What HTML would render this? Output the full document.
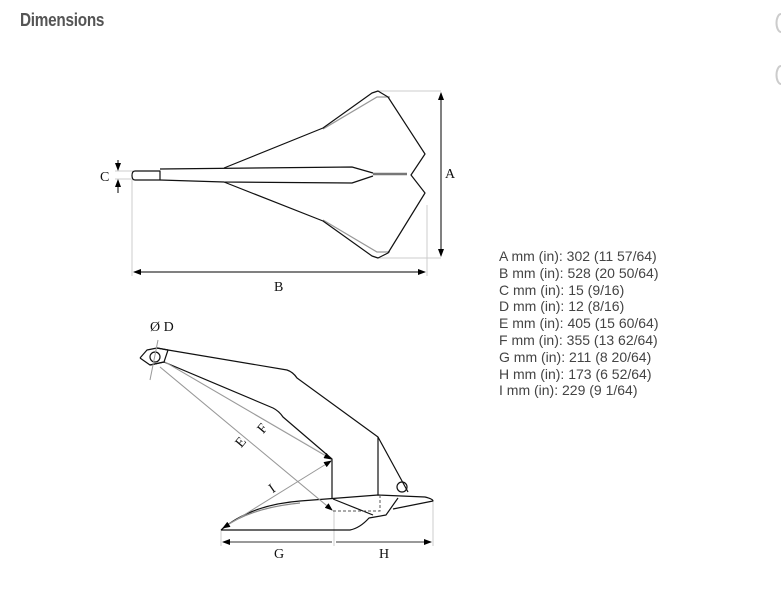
<!DOCTYPE html>
<html><head><style>
body{margin:0;background:#fff;width:781px;height:597px;overflow:hidden;position:relative;font-family:"Liberation Sans",sans-serif}
.t{position:absolute;left:20px;top:10px;font-size:18px;font-weight:bold;color:#555;letter-spacing:-0.3px;transform:scaleX(0.85);transform-origin:left}
.l{position:absolute;left:499px;top:248px;font-size:14px;line-height:16.8px;color:#444}
</style></head><body>
<div class="t">Dimensions</div>
<div class="l">A mm (in): 302 (11 57/64)<br>B mm (in): 528 (20 50/64)<br>C mm (in): 15 (9/16)<br>D mm (in): 12 (8/16)<br>E mm (in): 405 (15 60/64)<br>F mm (in): 355 (13 62/64)<br>G mm (in): 211 (8 20/64)<br>H mm (in): 173 (6 52/64)<br>I mm (in): 229 (9 1/64)</div>
<svg width="781" height="597" style="position:absolute;left:0;top:0" font-family="Liberation Serif,serif" font-size="14">
<defs><marker id="a" markerWidth="8" markerHeight="6" refX="7" refY="3" orient="auto-start-reverse"><path d="M0,0L8,3L0,6z" fill="#000"/></marker></defs>
<g fill="none" stroke="#ccc" stroke-width="1">
<path d="M378,91H441M378,258H441M132,180V276M427,205V276M115,171H133M115,179H133"/>
<path d="M165,362L332,459M160,367L332,510M221,530V546M334,510V546M433,502V546"/>
</g>
<g fill="none" stroke="#000" stroke-width="1">
<path d="M441,93V256" marker-start="url(#a)" marker-end="url(#a)"/>
<path d="M134,272H425" marker-start="url(#a)" marker-end="url(#a)"/>
<path d="M118,160V170" marker-end="url(#a)"/>
<path d="M118,193V180" marker-end="url(#a)"/>
<path d="M223,542H332M336,542H431" marker-start="url(#a)" marker-end="url(#a)" stroke="#333"/>
</g>
<g fill="none" stroke="#999" stroke-width="1.3">
<path d="M323,129L377,97H390M323,220L377,252H390"/>
<path d="M373,174H407" stroke="#777" stroke-width="2.5"/>
</g>
<g fill="none" stroke="#111" stroke-width="1.2" stroke-linejoin="round">
<path d="M224,168L323,128L372,93L378,91L388,97L425,154L411,175L425,193L388,253L378,258L372,256L323,221L224,182"/>
<path d="M135,171H160V180H135Q132,180 132,175.5Q132,171 135,171Z"/>
<path d="M160,169L352,167L373,173M160,180L224,182L352,183L373,176"/>
<path d="M140,358L147,350L157,348L168,350L287,370Q293,372 297,378L378,437L408,492"/>
<path d="M140,358L150,365L164,362L273,408Q279,411 283,417L332,459V499"/>
<path d="M157,348L168,350L164,362L150,365"/>
<path d="M378,437V495"/>
<path d="M221,530Q250,505 300,501L378,495L425,497Q433,499 433,501L393,509"/>
<path d="M221,530L350,530Q360,528 369,518L386,515L398,498"/>
<path d="M333,499L373,515"/>
<path d="M223,528Q250,508 300,503" stroke="#888"/>
<circle cx="155" cy="357" r="5"/>
<circle cx="402" cy="487" r="5"/>
</g>
<path d="M333,511H380V495" fill="none" stroke="#555" stroke-dasharray="3,2"/>
<g fill="none" stroke="#999" stroke-width="1">
<path d="M165,362L331,459" marker-end="url(#a)"/>
<path d="M160,367L332,510" marker-end="url(#a)"/>
<path d="M223,528L331,461" marker-start="url(#a)" marker-end="url(#a)"/>
<path d="M158,340L150,380"/>
</g>
<g fill="#111">
<text x="100" y="181">C</text><text x="445" y="178">A</text><text x="274" y="291">B</text>
<text x="150" y="331">Ø D</text><text x="274" y="558">G</text><text x="379" y="558">H</text>
<text x="258" y="433" transform="rotate(-50 262 428)">F</text>
<text x="236" y="447" transform="rotate(-50 240 442)">E</text>
<text x="269" y="492" transform="rotate(-35 273 487)">I</text>
</g>
<path d="M781,14A4,8 0 0 0 781,32M781,66A4,8 0 0 0 781,84" fill="none" stroke="#ccc" stroke-width="2"/>
</svg>
</body></html>
